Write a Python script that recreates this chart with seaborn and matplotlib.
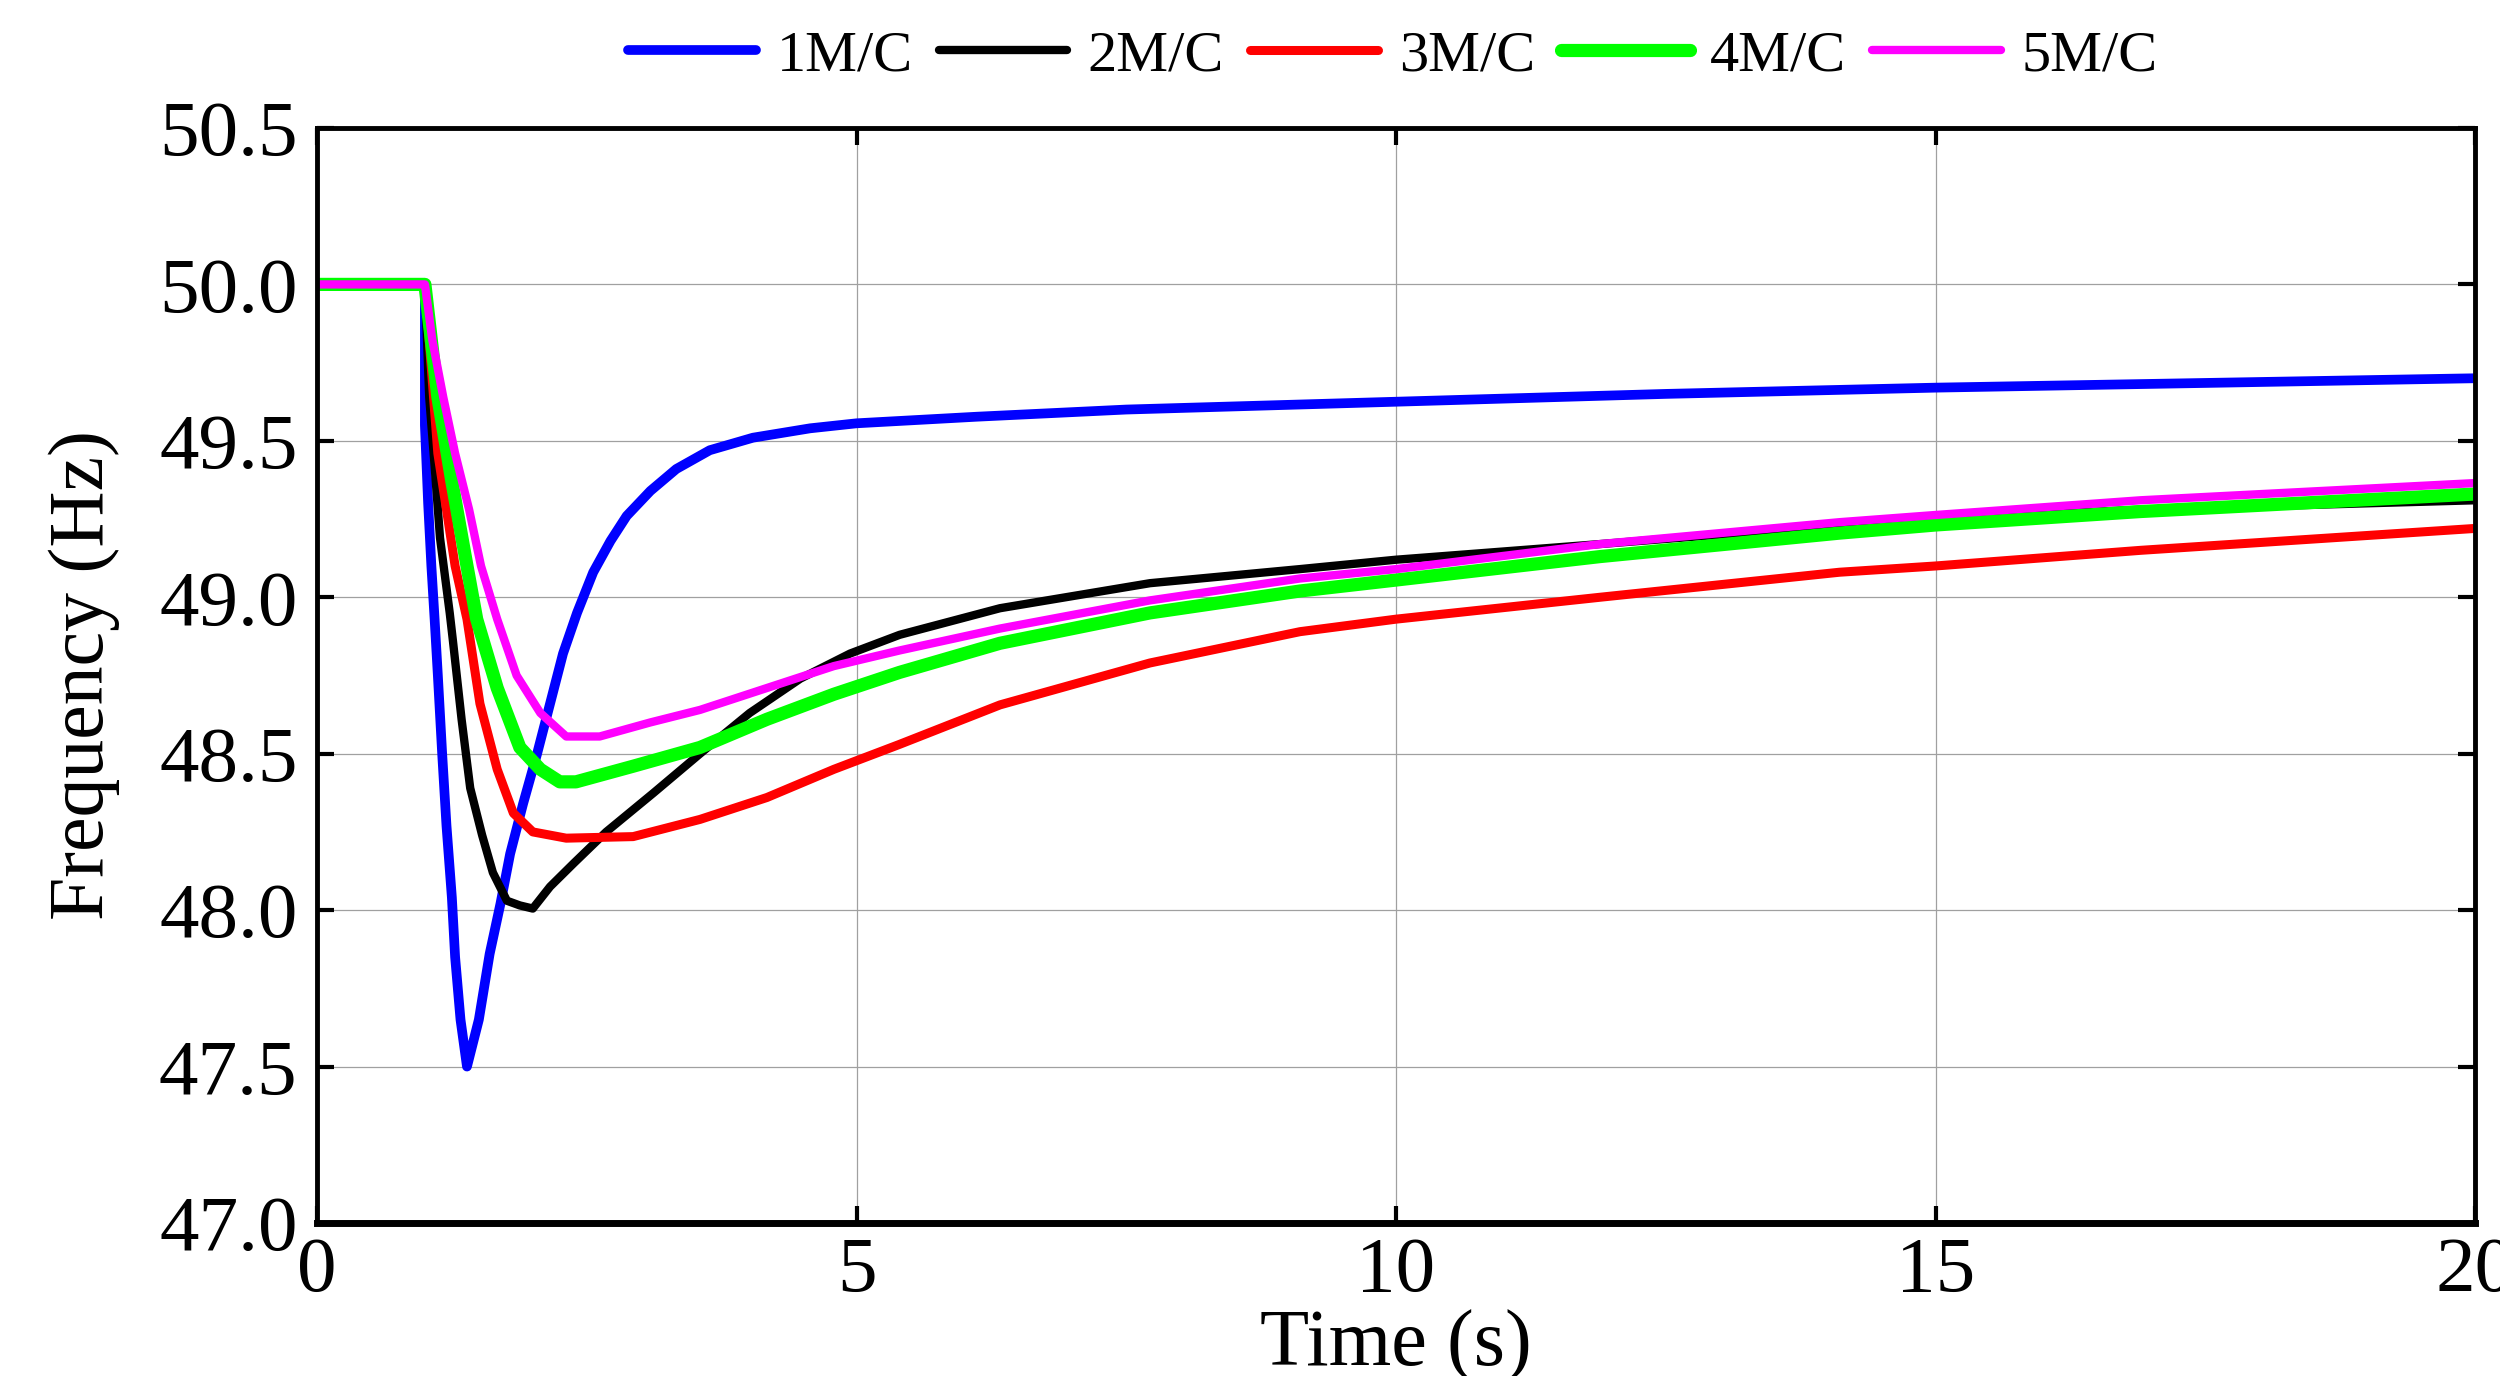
# frequency response after disturbance, 1-5 machines
import matplotlib
matplotlib.use("Agg")
import matplotlib.pyplot as plt
import seaborn as sns
import pandas as pd

labels = ["1M/C", "2M/C", "3M/C", "4M/C", "5M/C"]
colors = ["#0000ff", "#000000", "#ff0000", "#00ff00", "#ff00ff"]
widths = [7.0, 6.0, 6.5, 9.5, 6.0]

t_1mc = [0, 1.0, 1.0, 1.03, 1.06, 1.09, 1.12, 1.16, 1.20, 1.25, 1.28, 1.33, 1.39,
         1.50, 1.60, 1.70, 1.79, 1.91, 2.04, 2.16, 2.28, 2.41, 2.56, 2.72, 2.87,
         3.09, 3.33, 3.64, 4.04, 4.57, 5.0, 6.11, 7.5, 10, 12.5, 15, 17.5, 20]
f_1mc = [50.0, 50.0, 49.55, 49.30, 49.10, 48.93, 48.75, 48.50, 48.27, 48.04, 47.85,
         47.65, 47.50, 47.65, 47.86, 48.02, 48.18, 48.34, 48.50, 48.66, 48.82, 48.95,
         49.08, 49.18, 49.26, 49.34, 49.41, 49.47, 49.51, 49.54, 49.556, 49.577,
         49.60, 49.625, 49.65, 49.67, 49.685, 49.70]

t_2mc = [0, 1.0, 1.04, 1.09, 1.14, 1.23, 1.26, 1.34, 1.42, 1.53, 1.63, 1.76, 1.88,
         2.0, 2.16, 2.38, 2.68, 3.12, 3.55, 4.01, 4.48, 4.94, 5.40, 6.33, 7.72, 9.11,
         10, 11.89, 14.11, 15, 16.9, 20]
f_2mc = [50.0, 50.0, 49.64, 49.42, 49.19, 48.95, 48.86, 48.61, 48.39, 48.24, 48.12,
         48.03, 48.015, 48.005, 48.075, 48.15, 48.25, 48.375, 48.50, 48.63, 48.74,
         48.82, 48.88, 48.965, 49.045, 49.09, 49.12, 49.17, 49.23, 49.25, 49.28, 49.31]

t_3mc = [0, 1.0, 1.08, 1.12, 1.20, 1.28, 1.39, 1.51, 1.67, 1.82, 2.0, 2.31, 2.93,
         3.55, 4.17, 4.79, 5.40, 6.33, 7.72, 9.11, 10, 11.89, 14.11, 15, 16.9, 20]
f_3mc = [50.0, 50.0, 49.64, 49.46, 49.28, 49.10, 48.93, 48.66, 48.45, 48.31, 48.25,
         48.23, 48.235, 48.29, 48.36, 48.45, 48.53, 48.656, 48.79, 48.89, 48.93,
         49.00, 49.08, 49.10, 49.15, 49.22]

t_4mc = [0, 1.0, 1.12, 1.25, 1.39, 1.48, 1.67, 1.88, 2.07, 2.25, 2.40, 2.93, 3.55,
         4.17, 4.79, 5.40, 6.33, 7.72, 9.11, 10, 11.89, 14.11, 15, 16.9, 20]
f_4mc = [50.0, 50.0, 49.64, 49.37, 49.10, 48.93, 48.71, 48.52, 48.45, 48.41, 48.41,
         48.46, 48.52, 48.61, 48.69, 48.76, 48.853, 48.95, 49.02, 49.055, 49.13,
         49.205, 49.231, 49.274, 49.33]

t_5mc = [0, 1.0, 1.07, 1.17, 1.28, 1.41, 1.52, 1.67, 1.85, 2.07, 2.31, 2.62, 3.09,
         3.55, 4.17, 4.79, 5.40, 6.33, 7.72, 9.11, 10, 11.89, 14.11, 15, 16.9, 20]
f_5mc = [50.0, 50.0, 49.82, 49.64, 49.46, 49.28, 49.10, 48.93, 48.75, 48.63, 48.555,
         48.555, 48.60, 48.64, 48.71, 48.78, 48.83, 48.90, 48.99, 49.06, 49.09, 49.17,
         49.24, 49.263, 49.31, 49.365]

series = [(t_1mc, f_1mc), (t_2mc, f_2mc), (t_3mc, f_3mc), (t_4mc, f_4mc), (t_5mc, f_5mc)]

x_ticks = [0, 5, 10, 15, 20]
y_ticks = [47.0, 47.5, 48.0, 48.5, 49.0, 49.5, 50.0, 50.5]


def main():
    sns.set_theme(style="ticks")
    plt.rcParams["font.family"] = ["Liberation Serif", "DejaVu Serif"]
    plt.rcParams["text.color"] = "black"
    plt.rcParams["axes.labelcolor"] = "black"

    fig = plt.figure(figsize=(25, 13.76), dpi=100)
    ax = fig.add_axes([0.1268, 0.1112, 0.8632, 0.7958])

    for (t, f), lab, col, lw in zip(series, labels, colors, widths):
        df = pd.DataFrame({"Time": t, "Frequency": f})
        sns.lineplot(data=df, x="Time", y="Frequency", ax=ax, color=col,
                     linewidth=lw, label=lab, sort=False, estimator=None)

    ax.set_xlim(0, 20)
    ax.set_ylim(47.0, 50.5)
    ax.set_xticks(x_ticks)
    ax.set_yticks(y_ticks)
    ax.set_yticklabels([f"{v:.1f}" for v in y_ticks])
    ax.grid(True, color="#a0a0a0", linewidth=0.9)
    ax.tick_params(direction="in", length=12, width=3, labelsize=57,
                   top=True, right=True, colors="black")
    ax.tick_params(axis="y", pad=14)
    ax.tick_params(axis="x", pad=10)
    for side in ["left", "right", "top"]:
        ax.spines[side].set_linewidth(3.5)
        ax.spines[side].set_color("black")
    ax.spines["bottom"].set_linewidth(5)
    ax.spines["bottom"].set_color("black")

    ax.set_xlabel("Time (s)", fontsize=58, labelpad=1, color="black")
    ax.set_ylabel("Frequency (Hz)", fontsize=56, labelpad=28, color="black")

    handles, labs = ax.get_legend_handles_labels()
    ax.get_legend().remove()
    leg = fig.legend(handles, labs, loc="center", bbox_to_anchor=(0.557, 0.959),
                     ncol=5, frameon=False, fontsize=42, handlelength=2.2,
                     handletextpad=0.35, columnspacing=0.45)
    for line, lw in zip(leg.get_lines(), widths):
        line.set_linewidth(lw)

    fig.savefig("out.png", dpi=100)
    plt.close(fig)


if __name__ == "__main__":
    main()
